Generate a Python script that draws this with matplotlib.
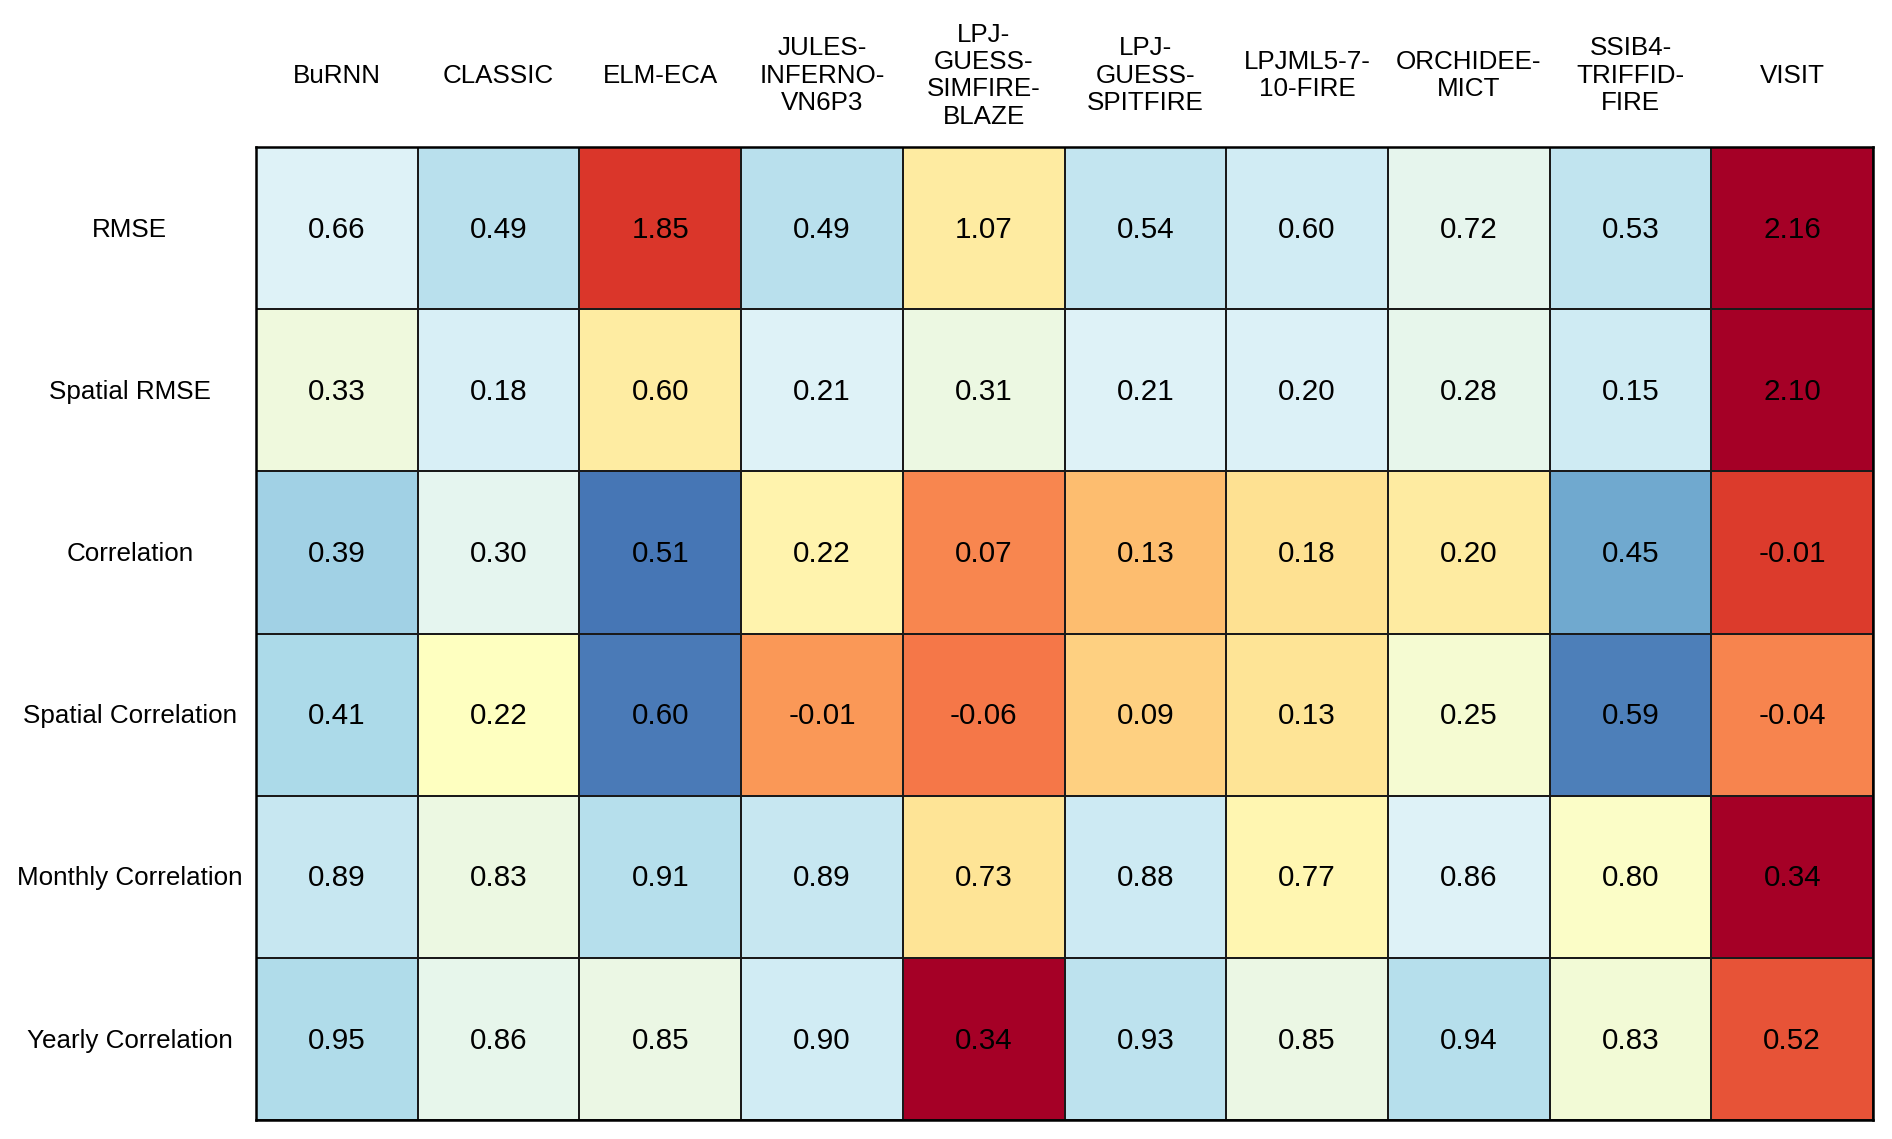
import matplotlib
matplotlib.use('Agg')
import matplotlib.pyplot as plt
import numpy as np

plt.rcParams['font.family'] = ['Liberation Sans', 'DejaVu Sans']

# Modeles (libelles coupes comme sur la figure)
models = ['BuRNN', 'CLASSIC', 'ELM-ECA', 'JULES-\nINFERNO-\nVN6P3',
          'LPJ-\nGUESS-\nSIMFIRE-\nBLAZE', 'LPJ-\nGUESS-\nSPITFIRE',
          'LPJML5-7-\n10-FIRE', 'ORCHIDEE-\nMICT', 'SSIB4-\nTRIFFID-\nFIRE',
          'VISIT']
metrics = ['RMSE', 'Spatial RMSE', 'Correlation', 'Spatial Correlation',
           'Monthly Correlation', 'Yearly Correlation']

rmse = [0.66, 0.49, 1.85, 0.49, 1.07, 0.54, 0.60, 0.72, 0.53, 2.16]
spatial_rmse = [0.33, 0.18, 0.60, 0.21, 0.31, 0.21, 0.20, 0.28, 0.15, 2.10]
correlation = [0.39, 0.30, 0.51, 0.22, 0.07, 0.13, 0.18, 0.20, 0.45, -0.01]
spatial_corr = [0.41, 0.22, 0.60, -0.01, -0.06, 0.09, 0.13, 0.25, 0.59, -0.04]
monthly_corr = [0.89, 0.83, 0.91, 0.89, 0.73, 0.88, 0.77, 0.86, 0.80, 0.34]
yearly_corr = [0.95, 0.86, 0.85, 0.90, 0.34, 0.93, 0.85, 0.94, 0.83, 0.52]

# Pour les RMSE, plus petit = meilleur (bleu)
lower_is_better = [True, True, False, False, False, False]

values = np.array([rmse, spatial_rmse, correlation, spatial_corr,
                   monthly_corr, yearly_corr])

# Score normalise par ligne (z-score), signe inverse pour les RMSE
mean = values.mean(axis=1, keepdims=True)
std = values.std(axis=1, ddof=1, keepdims=True)
z = (values - mean) / std
z[np.array(lower_is_better)] *= -1

fig = plt.figure(figsize=(18.92, 11.39), dpi=100)
ax = fig.add_axes([0.1353, 0.0167, 0.8547, 0.8542])

ax.pcolormesh(z, cmap='RdYlBu', vmin=-2, vmax=2,
              edgecolors='#1a1a1a', linewidth=1.3)
ax.set_xlim(0, len(models))
ax.set_ylim(len(metrics), 0)
ax.set_xticks([])
ax.set_yticks([])
for s in ax.spines.values():
    s.set_linewidth(1.8)
    s.set_color('black')

# Valeurs dans les cases
for i in range(len(metrics)):
    for j in range(len(models)):
        ax.text(j + 0.5, i + 0.51, f'{values[i, j]:.2f}', ha='center',
                va='center', fontsize=21.3, color='black')

# Libelles des colonnes
for j, m in enumerate(models):
    ax.text(j + 0.5, -0.44, m, ha='center', va='center', fontsize=18.7,
            linespacing=1.18, clip_on=False)

# Libelles des lignes
for i, m in enumerate(metrics):
    ax.text(-0.78, i + 0.51, m, ha='center', va='center', fontsize=18.7,
            clip_on=False)

fig.savefig('out.png', dpi=100)
